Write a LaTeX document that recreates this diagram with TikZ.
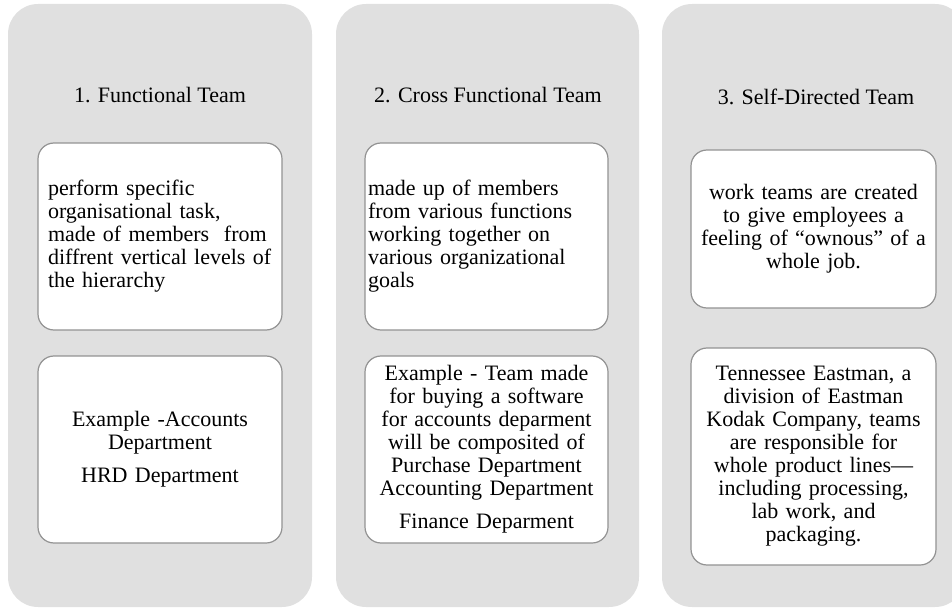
\documentclass[tikz,border=0pt]{standalone}
\usepackage{fontspec}
\setmainfont{Liberation Serif}
\definecolor{panelgray}{HTML}{E0E0E0}
\definecolor{cardline}{HTML}{939393}
\begin{document}
\begin{tikzpicture}[x=1pt,y=-1pt]
\tikzstyle{every node}=[font=\fontsize{22}{23}\selectfont, text=black]
\tikzstyle{panel}=[fill=panelgray, rounded corners=30pt]
\tikzstyle{card}=[draw=cardline, fill=white, line width=1.2pt, rounded corners=16pt, inner sep=0pt]
\useasboundingbox (0,0) rectangle (952,609);
% three team columns
\fill[panel] (8,4) rectangle (312,607);
\fill[panel] (336,4) rectangle (639,607);
\fill[panel] (662,4) rectangle (965,607);
\node (t1) at (160,95) {1. Functional Team};
\node (t2) at (488,95) {2. Cross Functional Team};
\node (t3) at (816,97) {3. Self-Directed Team};
% functional
\node[card, minimum width=244pt, minimum height=187pt, text width=224pt, align=left] (fdef) at (160,236.5)
{perform specific\\ organisational task,\\ made of members\ \ from\\ diffrent vertical levels of\\ the hierarchy};
\node[card, minimum width=244pt, minimum height=187pt, text width=230pt, align=center] (fex) at (160,449.5)
{Example -Accounts\\ Department\\[10pt] HRD Department};
% cross functional
\node[card, minimum width=243pt, minimum height=187pt, text width=237pt, align=left] (cdef) at (486.5,236.5)
{made up of members\\ from various functions\\ working together on\\ various organizational\\ goals};
\node[card, minimum width=243pt, minimum height=187pt, text width=237pt, align=center] (cex) at (486.5,449.5)
{Example - Team made\\ for buying a software\\ for accounts deparment\\ will be composited of\\ Purchase Department\\ Accounting Department\\[10pt] Finance Deparment};
% self-directed
\node[card, minimum width=245pt, minimum height=158pt, text width=237pt, align=center] (sdef) at (813.5,229)
{work teams are created\\ to give employees a\\ feeling of “ownous” of a\\ whole job.};
\node[card, minimum width=245pt, minimum height=217pt, text width=237pt, align=center] (sex) at (813.5,456.5)
{Tennessee Eastman, a\\ division of Eastman\\ Kodak Company, teams\\ are responsible for\\ whole product lines—\\ including processing,\\ lab work, and\\ packaging.};
\end{tikzpicture}
\end{document}
